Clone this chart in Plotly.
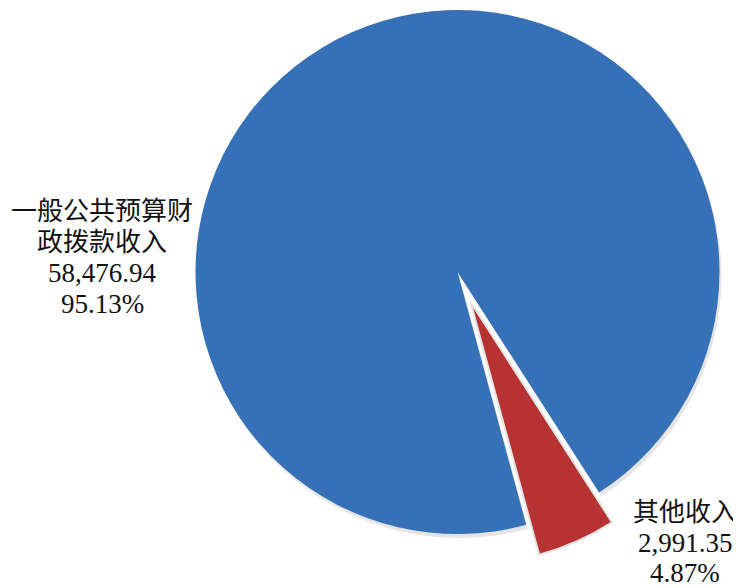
import plotly.graph_objects as go

# data
labels = ['一般公共预算财政拨款收入', '其他收入']
label_lines = [['一般公共预算财', '政拨款收入'], ['其他收入']]
values = [58476.94, 2991.35]

W, H = 741, 588
OFF = 8  # page body margin, figure sits 8px in from the corner
blue = '#3670b6'
red = '#b73333'
font_family = 'Liberation Serif, Noto Sans CJK SC'


def domain(cx, cy, r):
    cx, cy = cx - OFF, cy - OFF
    return dict(x=[(cx - r) / W, (cx + r) / W],
                y=[1 - (cy + r) / H, 1 - (cy - r) / H])


total = sum(values)
pct = [v / total * 100 for v in values]
rotation = 164.8
radius = 262

fig = go.Figure()

# soft shadow under the big slice
fig.add_trace(go.Pie(values=values, sort=False, direction='clockwise', rotation=rotation,
                     marker=dict(colors=['rgba(0,0,0,0.10)', 'rgba(0,0,0,0)'], line=dict(width=0)),
                     textinfo='none', hoverinfo='skip', showlegend=False,
                     domain=domain(459.5, 276, radius)))

# big slice (other one left empty so the gap shows)
fig.add_trace(go.Pie(values=values, labels=labels, sort=False, direction='clockwise', rotation=rotation,
                     marker=dict(colors=[blue, 'rgba(0,0,0,0)'], line=dict(width=0)),
                     textinfo='none', showlegend=False,
                     domain=domain(457.5, 272, radius)))

# small slice, exploded
fig.add_trace(go.Pie(values=values, labels=labels, sort=False, direction='clockwise', rotation=rotation,
                     marker=dict(colors=['rgba(0,0,0,0)', red],
                                 line=dict(color=['rgba(0,0,0,0)', '#e4e4e4'], width=[0, 2])),
                     textinfo='none', showlegend=False,
                     domain=domain(470.5, 302, radius)))

# labels, one annotation per line
label_pos = [(102, 212), (685, 512)]
spacing = 30.5
for i in range(len(values)):
    lines = label_lines[i] + [f'{values[i]:,.2f}', f'{pct[i]:.2f}%']
    x0, y0 = label_pos[i]
    for j, line in enumerate(lines):
        size = 26 if j < len(label_lines[i]) else 27
        fig.add_annotation(x=(x0 - OFF) / W, y=1 - (y0 + j * spacing - OFF) / H,
                           xref='paper', yref='paper',
                           text=line, showarrow=False, xanchor='center', yanchor='middle',
                           font=dict(family=font_family, size=size, color='#111111'))

fig.update_layout(width=W, height=H, margin=dict(l=0, r=0, t=0, b=0),
                  paper_bgcolor='white', plot_bgcolor='white')

fig.write_html("out.html")
